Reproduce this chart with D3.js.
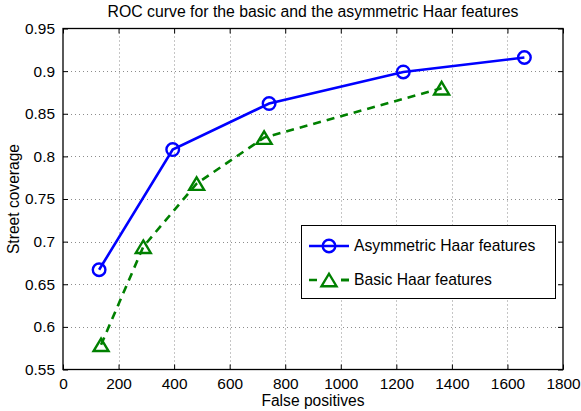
<!DOCTYPE html>
<html><head><meta charset="utf-8">
<script src="https://cdn.jsdelivr.net/npm/d3@7"></script>
<style>
body{margin:0;background:#fff;}
text{font-family:"Liberation Sans",Arial,Helvetica,sans-serif;fill:#000;}
</style></head>
<body>
<svg id="chart" width="581" height="411"></svg>
<script>
const title = "ROC curve for the basic and the asymmetric Haar features";
const xLabel = "False positives";
const yLabel = "Street coverage";
const seriesNames = ["Asymmetric Haar features", "Basic Haar features"];
const asymFP = [130, 395, 742, 1225, 1661];
const asymCov = [0.667, 0.808, 0.862, 0.899, 0.916];
const basicFP = [137, 289, 481, 724, 1363];
const basicCov = [0.579, 0.694, 0.768, 0.822, 0.880];
const xTicks = [0, 200, 400, 600, 800, 1000, 1200, 1400, 1600, 1800];
const yTicks = [0.55, 0.6, 0.65, 0.7, 0.75, 0.8, 0.85, 0.9, 0.95];

const svg = d3.select("#chart");
const L = 63, R = 563, T = 28.5, B = 369.5;
const x = d3.scaleLinear().domain([0, 1800]).range([L, R]);
const y = d3.scaleLinear().domain([0.55, 0.95]).range([B, T]);
const fs = 15.4;

// grid
const grid = svg.append("g").attr("stroke", "#8c8c8c").attr("stroke-width", 1).attr("stroke-dasharray", "1,3");
xTicks.slice(1, -1).forEach(t => grid.append("line").attr("x1", Math.round(x(t)) + 0.5).attr("x2", Math.round(x(t)) + 0.5).attr("y1", T).attr("y2", B));
yTicks.slice(1, -1).forEach(t => grid.append("line").attr("y1", Math.round(y(t)) + 0.5).attr("y2", Math.round(y(t)) + 0.5).attr("x1", L).attr("x2", R));

// axes
function styleAxis(g){ g.select(".domain").remove(); g.selectAll("line").attr("stroke","#000"); g.selectAll("text").attr("font-size", fs).attr("font-family",'"Liberation Sans",Arial,sans-serif'); }
svg.append("g").attr("transform", `translate(0,${B})`)
  .call(d3.axisBottom(x).tickValues(xTicks).tickFormat(d3.format("d")).tickSize(-5).tickPadding(9)).call(styleAxis);
svg.append("g").attr("transform", `translate(0,${T})`)
  .call(d3.axisTop(x).tickValues(xTicks).tickFormat("").tickSize(-5)).call(styleAxis);
svg.append("g").attr("transform", `translate(${L},0)`)
  .call(d3.axisLeft(y).tickValues(yTicks).tickFormat(d => d3.format("")(+d.toFixed(2))).tickSize(-5).tickPadding(8)).call(styleAxis);
svg.append("g").attr("transform", `translate(${R},0)`)
  .call(d3.axisRight(y).tickValues(yTicks).tickFormat("").tickSize(-5)).call(styleAxis);
svg.append("rect").attr("x", L).attr("y", T).attr("width", R - L).attr("height", B - T)
  .attr("fill", "none").attr("stroke", "#000").attr("stroke-width", 1.3);

// series
const asym = asymFP.map((v, i) => [v, asymCov[i]]);
const basic = basicFP.map((v, i) => [v, basicCov[i]]);
const line = d3.line().x(d => x(d[0])).y(d => y(d[1]));
const blue = "#0000ff", green = "#008000";
svg.append("path").attr("d", line(basic)).attr("fill", "none").attr("stroke", green).attr("stroke-width", 2.6).attr("stroke-dasharray", "8,6");
svg.append("path").attr("d", line(asym)).attr("fill", "none").attr("stroke", blue).attr("stroke-width", 2.6);
const tri = (w, h) => `M0,${-h/2}L${w/2},${h/2}L${-w/2},${h/2}Z`;
svg.append("g").selectAll("circle").data(asym).join("circle")
  .attr("cx", d => x(d[0])).attr("cy", d => y(d[1])).attr("r", 6.3)
  .attr("fill", "none").attr("stroke", blue).attr("stroke-width", 2.4);
svg.append("g").selectAll("path").data(basic).join("path")
  .attr("transform", d => `translate(${x(d[0])},${y(d[1])})`).attr("d", tri(15, 12.5))
  .attr("fill", "none").attr("stroke", green).attr("stroke-width", 2.4).attr("stroke-linejoin", "miter");

// legend
const lg = svg.append("g");
lg.append("rect").attr("x", 301.5).attr("y", 225.5).attr("width", 254).attr("height", 73)
  .attr("fill", "#fff").attr("stroke", "#000").attr("stroke-width", 1);
const rows = [{y: 246, c: blue, dash: null, m: "c"}, {y: 280, c: green, dash: "8,6", m: "t"}];
rows.forEach((r, i) => {
  lg.append("line").attr("x1", 309).attr("x2", 349).attr("y1", r.y).attr("y2", r.y)
    .attr("stroke", r.c).attr("stroke-width", 2.6).attr("stroke-dasharray", r.dash ? "8,24" : null);
  if (r.dash) lg.append("line").attr("x1", 341).attr("x2", 349).attr("y1", r.y).attr("y2", r.y).attr("stroke", r.c).attr("stroke-width", 2.6);
  if (r.m === "c") lg.append("circle").attr("cx", 329).attr("cy", r.y).attr("r", 6.3).attr("fill", "none").attr("stroke", r.c).attr("stroke-width", 2.4);
  else lg.append("path").attr("transform", `translate(329,${r.y})`).attr("d", tri(15, 12.5)).attr("fill", "none").attr("stroke", r.c).attr("stroke-width", 2.4);
  lg.append("text").attr("x", 354).attr("y", r.y).attr("dy", "0.35em").attr("font-size", 15.7).text(seriesNames[i]);
});

// labels
svg.append("text").attr("x", 313).attr("y", 16.5).attr("text-anchor", "middle").attr("font-size", 15.8).text(title);
svg.append("text").attr("x", 313).attr("y", 406).attr("text-anchor", "middle").attr("font-size", 15.6).text(xLabel);
svg.append("text").attr("transform", `translate(18.5,${(T + B) / 2}) rotate(-90)`).attr("text-anchor", "middle").attr("font-size", 15.6).text(yLabel);
</script>
</body></html>
